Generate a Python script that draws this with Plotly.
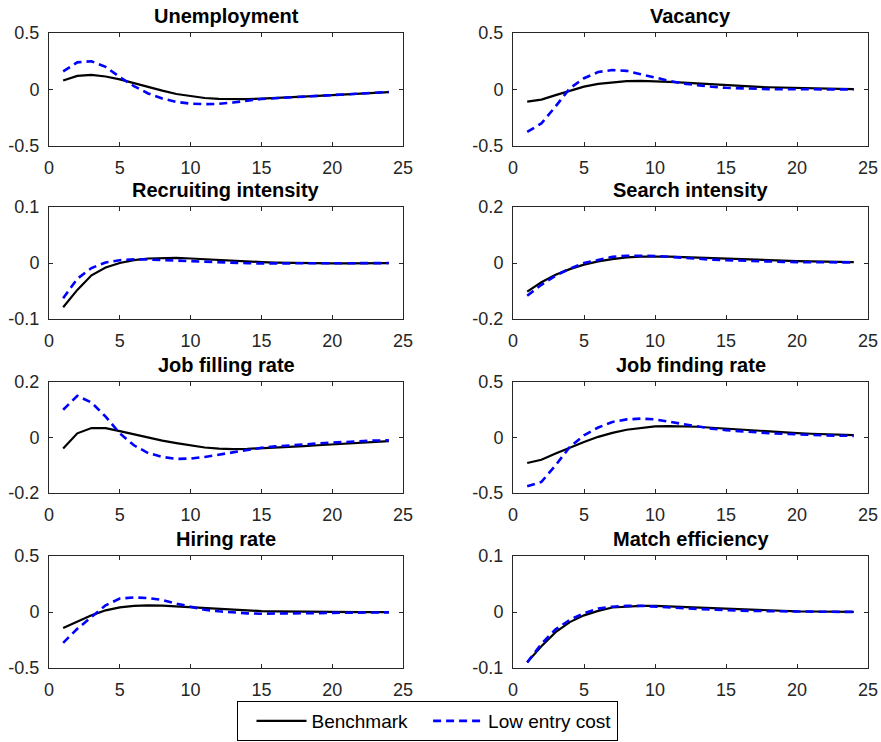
import plotly.graph_objects as go

periods = list(range(1, 25))

titles = ["Unemployment", "Vacancy", "Recruiting intensity", "Search intensity",
          "Job filling rate", "Job finding rate", "Hiring rate", "Match efficiency"]

unemp_bench = [0.08, 0.12, 0.13, 0.115, 0.09, 0.055, 0.02, -0.01, -0.04, -0.06, -0.075, -0.083,
               -0.086, -0.085, -0.081, -0.076, -0.07, -0.063, -0.056, -0.049, -0.042, -0.035, -0.029, -0.023]
unemp_low = [0.16, 0.24, 0.25, 0.2, 0.11, 0.03, -0.035, -0.08, -0.11, -0.125, -0.13, -0.127,
             -0.115, -0.097, -0.084, -0.077, -0.071, -0.064, -0.057, -0.05, -0.043, -0.036, -0.029, -0.022]

vac_bench = [-0.107, -0.09, -0.05, -0.01, 0.025, 0.05, 0.065, 0.074, 0.077, 0.075, 0.068, 0.06,
             0.052, 0.044, 0.037, 0.031, 0.025, 0.02, 0.016, 0.012, 0.009, 0.007, 0.005, 0.004]
vac_low = [-0.375, -0.3, -0.15, 0.01, 0.1, 0.155, 0.172, 0.165, 0.135, 0.105, 0.077, 0.052,
           0.035, 0.024, 0.015, 0.009, 0.005, 0.003, 0.002, 0.002, 0.002, 0.001, 0.001, 0.001]

rec_bench = [-0.079, -0.048, -0.022, -0.008, 0.0, 0.005, 0.008, 0.009, 0.009, 0.008, 0.0065, 0.005,
             0.0038, 0.0026, 0.0016, 0.0008, 0.0002, -0.0002, -0.0004, -0.0005, -0.0005, -0.0005, -0.0004, -0.0003]
rec_low = [-0.063, -0.028, -0.009, 0.001, 0.005, 0.0065, 0.0062, 0.0052, 0.004, 0.0028, 0.0017, 0.0008,
           0.0001, -0.0004, -0.0007, -0.0008, -0.0008, -0.0007, -0.0006, -0.0005, -0.0004, -0.0003, -0.0002, -0.0001]

search_bench = [-0.102, -0.069, -0.042, -0.022, -0.006, 0.006, 0.014, 0.02, 0.023, 0.024, 0.023, 0.021,
                0.019, 0.017, 0.015, 0.013, 0.011, 0.009, 0.008, 0.007, 0.006, 0.005, 0.004, 0.003]
search_low = [-0.117, -0.078, -0.045, -0.02, 0.0, 0.012, 0.022, 0.026, 0.026, 0.025, 0.022, 0.018,
              0.015, 0.012, 0.01, 0.008, 0.006, 0.005, 0.004, 0.003, 0.003, 0.002, 0.002, 0.002]

jfill_bench = [-0.04, 0.015, 0.034, 0.034, 0.023, 0.011, 0.0, -0.011, -0.02, -0.029, -0.036, -0.04,
               -0.042, -0.041, -0.039, -0.036, -0.034, -0.031, -0.028, -0.025, -0.022, -0.019, -0.016, -0.013]
jfill_low = [0.1, 0.15, 0.126, 0.075, 0.015, -0.028, -0.056, -0.07, -0.077, -0.076, -0.07, -0.062,
             -0.052, -0.044, -0.037, -0.032, -0.028, -0.024, -0.021, -0.018, -0.016, -0.013, -0.011, -0.01]

jfind_bench = [-0.23, -0.2, -0.145, -0.09, -0.04, 0.006, 0.042, 0.07, 0.088, 0.1, 0.103, 0.103,
               0.097, 0.088, 0.079, 0.07, 0.061, 0.053, 0.046, 0.04, 0.034, 0.029, 0.025, 0.021]
jfind_low = [-0.44, -0.4, -0.25, -0.085, 0.02, 0.09, 0.14, 0.163, 0.17, 0.163, 0.142, 0.12,
             0.097, 0.079, 0.066, 0.056, 0.047, 0.039, 0.033, 0.027, 0.023, 0.019, 0.016, 0.015]

hire_bench = [-0.143, -0.084, -0.03, 0.015, 0.042, 0.054, 0.06, 0.057, 0.05, 0.042, 0.033, 0.024,
              0.018, 0.012, 0.008, 0.005, 0.003, 0.001, 0.0, -0.001, -0.001, -0.001, -0.001, -0.001]
hire_low = [-0.275, -0.15, -0.045, 0.06, 0.12, 0.13, 0.125, 0.107, 0.075, 0.045, 0.02, 0.006,
            -0.006, -0.012, -0.015, -0.015, -0.014, -0.012, -0.01, -0.008, -0.006, -0.005, -0.004, -0.003]

match_bench = [-0.09, -0.061, -0.036, -0.018, -0.006, 0.002, 0.008, 0.01, 0.011, 0.011, 0.01, 0.009,
               0.008, 0.0065, 0.0055, 0.0042, 0.0032, 0.0024, 0.0017, 0.0012, 0.0009, 0.0006, 0.0005, 0.0004]
match_low = [-0.09, -0.057, -0.031, -0.014, -0.002, 0.006, 0.0095, 0.011, 0.011, 0.01, 0.0085, 0.0068,
             0.0055, 0.0042, 0.0032, 0.0024, 0.0018, 0.0013, 0.0009, 0.0007, 0.0005, 0.0004, 0.0003, 0.0003]

bench_series = [unemp_bench, vac_bench, rec_bench, search_bench, jfill_bench, jfind_bench, hire_bench, match_bench]
low_series = [unemp_low, vac_low, rec_low, search_low, jfill_low, jfind_low, hire_low, match_low]

y_limits = [0.5, 0.5, 0.1, 0.2, 0.2, 0.5, 0.5, 0.1]
y_ticklabels = {0.5: ["-0.5", "0", "0.5"], 0.1: ["-0.1", "0", "0.1"], 0.2: ["-0.2", "0", "0.2"]}
x_ticks = [0, 5, 10, 15, 20, 25]

W, H = 881, 742
col_px = [(49, 403), (513, 868)]
row_px = [(33, 146), (207, 319), (382, 493), (556, 668)]

FONT = "Liberation Sans, Arial, Helvetica, sans-serif"
AXC = "#262626"

fig = go.Figure()
annotations = []
for i in range(8):
    r, c = divmod(i, 2)
    n = i + 1
    xa = "x" if n == 1 else f"x{n}"
    ya = "y" if n == 1 else f"y{n}"
    fig.add_trace(go.Scatter(x=periods, y=bench_series[i], mode="lines", name="Benchmark",
                             line=dict(color="black", width=2.2), xaxis=xa, yaxis=ya,
                             showlegend=(i == 0), legendgroup="b"))
    fig.add_trace(go.Scatter(x=periods, y=low_series[i], mode="lines", name="Low entry cost",
                             line=dict(color="#0000FF", width=2.6, dash="8px,5px"), xaxis=xa, yaxis=ya,
                             showlegend=(i == 0), legendgroup="l"))
    x0, x1 = col_px[c]
    yt, yb = row_px[r]
    xd = [x0 / W, x1 / W]
    yd = [1 - yb / H, 1 - yt / H]
    lim = y_limits[i]
    axis_common = dict(showline=True, linecolor=AXC, linewidth=1, mirror="ticks", ticks="inside",
                       ticklen=4, tickcolor=AXC, tickwidth=1, showgrid=False, zeroline=False,
                       automargin=False, tickfont=dict(family=FONT, size=18, color=AXC))
    fig.layout[("xaxis" if n == 1 else f"xaxis{n}")] = dict(
        domain=xd, range=[0, 25], tickvals=x_ticks, ticktext=[str(v) for v in x_ticks],
        anchor=ya, ticklabelstandoff=5, **axis_common)
    fig.layout[("yaxis" if n == 1 else f"yaxis{n}")] = dict(
        domain=yd, range=[-lim, lim], tickvals=[-lim, 0, lim], ticktext=y_ticklabels[lim],
        anchor=xa, ticklabelstandoff=5, **axis_common)
    annotations.append(dict(text=f"<b>{titles[i]}</b>", x=(xd[0] + xd[1]) / 2, y=yd[1],
                            xref="paper", yref="paper", xanchor="center", yanchor="bottom",
                            yshift=4, showarrow=False,
                            font=dict(family=FONT, size=20, color="black")))

fig.update_layout(
    width=W, height=H, margin=dict(l=0, r=0, t=0, b=0, autoexpand=False),
    paper_bgcolor="white", plot_bgcolor="white",
    annotations=annotations,
    legend=dict(orientation="h", x=427 / W, xanchor="center", y=1 / H, yanchor="bottom",
                bordercolor="black", borderwidth=1, bgcolor="white",
                font=dict(family=FONT, size=19, color="black"), itemwidth=50,
                indentation=15, tracegroupgap=0),
)

fig.write_html("out.html", config={"displayModeBar": False},
               post_script="document.body.style.margin='0';document.body.style.padding='0';")
